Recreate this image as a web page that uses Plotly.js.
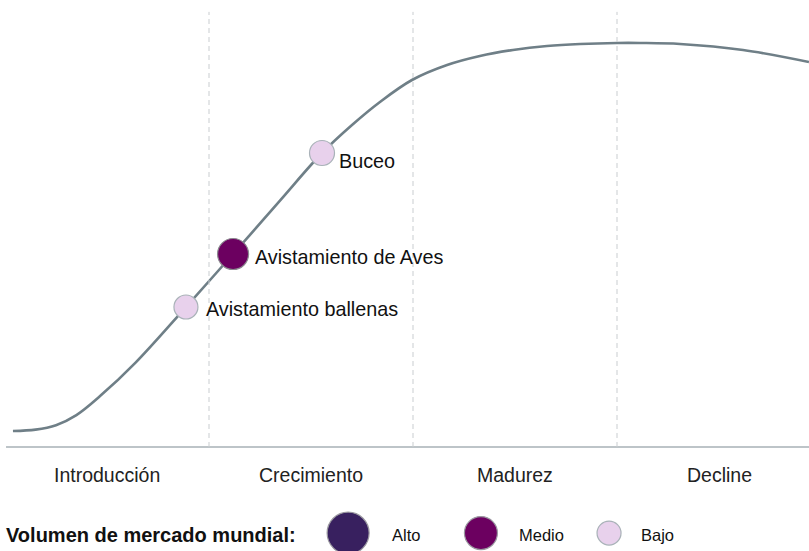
<!DOCTYPE html>
<html>
<head>
<meta charset="utf-8">
<script src="https://cdn.plot.ly/plotly-3.0.1.min.js"></script>
<style>html,body{margin:0;padding:0;background:#fff;}#chart{width:809px;height:551px;}</style>
</head>
<body>
<div id="chart"></div>
<script>
// Stages of the product life cycle (x in stage units, 0..4)
const stages = ['Introducción', 'Crecimiento', 'Madurez', 'Decline'];

// Life-cycle curve (x: stage units, y: relative market volume 0..100)
const curveX = [0.039, 0.150, 0.250, 0.350, 0.466, 0.640, 0.887, 1.118, 1.348, 1.554, 1.701, 1.838, 1.995, 2.167, 2.328, 2.490, 2.657, 2.819, 3.000, 3.113, 3.309, 3.618, 3.941];
const curveY = [3.96, 4.30, 5.40, 7.90, 12.60, 20.9, 34.65, 47.77, 61.0, 72.77, 79.7, 85.4, 90.84, 94.55, 96.78, 98.27, 99.26, 99.75, 100.0, 100.0, 99.75, 98.27, 95.3];

// Activities placed on the curve
const activities = ['Avistamiento ballenas', 'Avistamiento de Aves', 'Buceo'];
const activityX = [0.887, 1.118, 1.554];
const activityY = [34.65, 47.77, 72.77];
const activityVolume = ['Bajo', 'Medio', 'Bajo'];

// Legend categories
const volumeLabels = ['Alto', 'Medio', 'Bajo'];
const volumeTitle = 'Volumen de mercado mundial:';

// ---- styles / layout constants ----
const volColor = {Alto: '#38205f', Medio: '#6c0060', Bajo: '#e8d1ec'};
const volSize = {Alto: 42, Medio: 33, Bajo: 24};
const actSize = [24, 31, 25];
const legendX = [1.682, 2.333, 2.961];
const legendTextX = [1.887, 2.510, 3.108];
const legendY = -21.3;
const labelY = -6.93;
const FONT = 'Liberation Sans, Arial, sans-serif';

const traces = [
  {
    x: curveX, y: curveY, mode: 'lines', type: 'scatter',
    line: {color: '#6f7f87', width: 2.6, shape: 'spline', smoothing: 1},
    hoverinfo: 'skip', showlegend: false
  },
  {
    x: activityX, y: activityY, mode: 'markers', type: 'scatter',
    marker: {
      size: actSize, opacity: 1,
      color: activityVolume.map(v => volColor[v]),
      line: {color: activityVolume.map(v => v === 'Bajo' ? '#a9b2b8' : '#8c8a90'), width: 1.2}
    },
    text: activities, hoverinfo: 'text', showlegend: false
  },
  {
    x: legendX, y: volumeLabels.map(() => legendY), mode: 'markers', type: 'scatter',
    marker: {
      size: volumeLabels.map(v => volSize[v]), opacity: 1,
      color: volumeLabels.map(v => volColor[v]),
      line: {color: volumeLabels.map(v => v === 'Bajo' ? '#a9b2b8' : '#9a98a0'), width: 1.2}
    },
    cliponaxis: false, hoverinfo: 'skip', showlegend: false
  }
];

const shapes = [
  {type: 'line', xref: 'x', yref: 'y', x0: 0.005, x1: 3.95, y0: 0, y1: 0,
   line: {color: '#bdc4c8', width: 2}}
];
[1, 2, 3].forEach(b => shapes.push({
  type: 'line', xref: 'x', yref: 'y', x0: b, x1: b, y0: 0, y1: 107.7,
  line: {color: '#c9cdd0', width: 1, dash: '5px,4px'}
}));

const annotations = [];
stages.forEach((s, i) => annotations.push({
  x: i + 0.5, y: labelY, xref: 'x', yref: 'y', text: s, showarrow: false,
  xanchor: 'center', yanchor: 'middle', font: {family: FONT, size: 19.5, color: '#222'}
}));
const labelShift = [[18, -2], [20, -3], [15, -8]];
activities.forEach((a, i) => annotations.push({
  x: activityX[i], y: activityY[i], xref: 'x', yref: 'y', text: a, showarrow: false,
  xanchor: 'left', yanchor: 'middle', xshift: labelShift[i][0], yshift: labelShift[i][1],
  font: {family: FONT, size: 19.8, color: '#111'}
}));
annotations.push({
  x: 4 / 809, y: legendY, xref: 'paper', yref: 'y', text: '<b>' + volumeTitle + '</b>',
  showarrow: false, xanchor: 'left', yanchor: 'middle', yshift: -2,
  font: {family: FONT, size: 20, color: '#111'}
});
volumeLabels.forEach((v, i) => annotations.push({
  x: legendTextX[i], y: legendY, xref: 'x', yref: 'y', text: v, showarrow: false,
  xanchor: 'left', yanchor: 'middle', yshift: -2,
  font: {family: FONT, size: 16.5, color: '#111'}
}));

const layout = {
  width: 809, height: 551,
  margin: {l: 0, r: 0, t: 0, b: 0, pad: 0},
  paper_bgcolor: '#ffffff', plot_bgcolor: '#ffffff',
  xaxis: {range: [-0.0245, 3.9412], visible: false, fixedrange: true},
  yaxis: {range: [-25.74, 110.64], visible: false, fixedrange: true},
  shapes: shapes, annotations: annotations, showlegend: false
};

Plotly.newPlot('chart', traces, layout, {displayModeBar: false, staticPlot: true});
</script>
</body>
</html>
